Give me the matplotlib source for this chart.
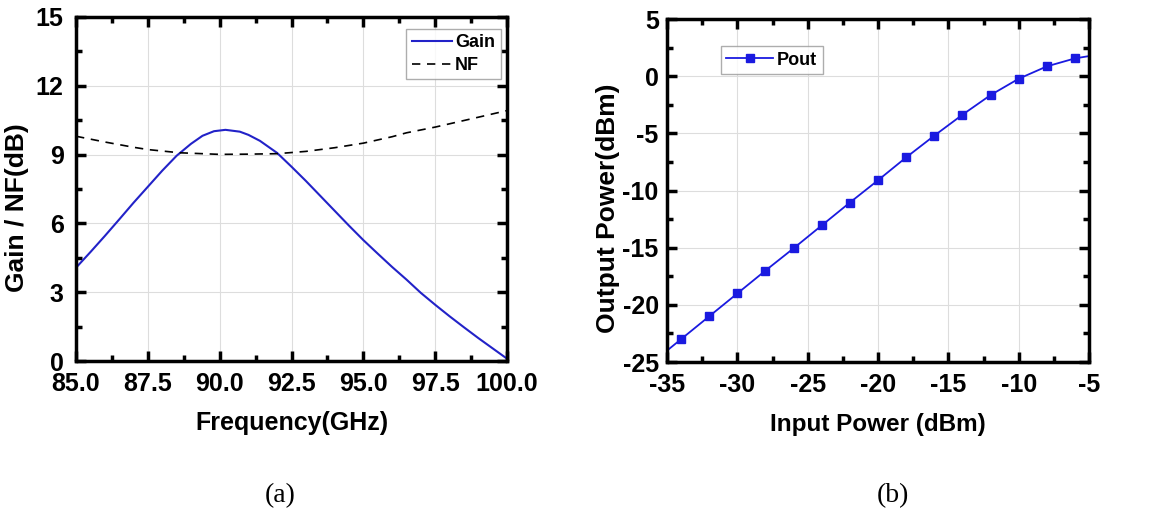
import matplotlib.pyplot as plt
from matplotlib.ticker import MultipleLocator, FormatStrFormatter

# (a) gain and noise figure vs frequency
freq_g = [85.0, 85.5, 86.0, 86.5, 87.0, 87.5, 88.0, 88.5, 89.0, 89.4, 89.8, 90.2,
          90.7, 91.0, 91.4, 92.0, 92.5, 93.0, 93.5, 94.0, 94.5, 95.0, 95.5, 96.0,
          96.5, 97.0, 97.5, 98.0, 98.5, 99.0, 99.5, 100.0]
gain = [4.07, 4.75, 5.45, 6.17, 6.9, 7.6, 8.3, 8.95, 9.47, 9.82, 10.02, 10.08,
        10.0, 9.86, 9.6, 9.07, 8.47, 7.85, 7.2, 6.55, 5.9, 5.27, 4.68, 4.1,
        3.55, 2.97, 2.45, 1.95, 1.47, 1.0, 0.55, 0.1]
freq_nf = [85.0, 86.0, 87.0, 87.5, 88.6, 90.0, 91.0, 92.0, 93.0, 94.0, 95.0, 96.0,
           96.5, 97.5, 99.0, 100.0]
nf = [9.8, 9.55, 9.32, 9.22, 9.08, 9.01, 9.02, 9.04, 9.14, 9.3, 9.5, 9.78,
      9.95, 10.2, 10.63, 10.92]

# (b) output power vs input power
pin = [-35, -34, -32, -30, -28, -26, -24, -22, -20, -18, -16, -14, -12, -10, -8, -6, -5]
pout = [-24.0, -23.0, -21.0, -19.0, -17.0, -15.05, -13.05, -11.05, -9.1, -7.1, -5.2,
        -3.37, -1.65, -0.22, 0.86, 1.56, 1.76]

plt.rcParams['font.family'] = ['Liberation Sans', 'DejaVu Sans']
plt.rcParams['font.weight'] = 'bold'
plt.rcParams['axes.unicode_minus'] = False

fig = plt.figure(figsize=(11.54, 5.15), dpi=100)
ax1 = fig.add_axes([0.0659, 0.299, 0.3735, 0.668])
ax2 = fig.add_axes([0.578, 0.297, 0.3657, 0.666])


def style(ax, ypad):
    for s in ax.spines.values():
        s.set_linewidth(2.5)
    ax.tick_params(which='both', direction='in', top=True, right=True,
                   labelsize=18, width=2.5)
    ax.tick_params(which='major', length=7)
    ax.tick_params(which='minor', length=4)
    ax.tick_params(axis='x', which='major', pad=8)
    ax.tick_params(axis='y', which='major', pad=ypad)
    ax.grid(True, which='major', color='#dddddd', linewidth=0.8)
    ax.set_axisbelow(True)
    for lab in ax.get_xticklabels() + ax.get_yticklabels():
        lab.set_fontweight('bold')


ax1.plot(freq_g, gain, color='#2222c8', lw=1.5, label='Gain')
ax1.plot(freq_nf, nf, color='black', lw=1.2, ls=(0, (5, 4)), label='NF')
ax1.set_xlim(85, 100)
ax1.set_ylim(0, 15)
ax1.xaxis.set_major_locator(MultipleLocator(2.5))
ax1.xaxis.set_minor_locator(MultipleLocator(1.25))
ax1.xaxis.set_major_formatter(FormatStrFormatter('%.1f'))
ax1.yaxis.set_major_locator(MultipleLocator(3))
ax1.yaxis.set_minor_locator(MultipleLocator(1.5))
style(ax1, 9)
ax1.set_xlabel('Frequency(GHz)', fontsize=18, fontweight='bold')
ax1.set_ylabel('Gain / NF(dB)', fontsize=19, fontweight='bold')
ax1.xaxis.set_label_coords(0.5, -0.145)
ax1.yaxis.set_label_coords(-0.11, 0.445)
leg1 = ax1.legend(loc='upper right', bbox_to_anchor=(0.985, 0.965), fontsize=13,
                  frameon=True, fancybox=False, edgecolor='#999999',
                  handlelength=2.2, handletextpad=0.2, borderpad=0.3,
                  labelspacing=0.3, borderaxespad=0)
leg1.get_frame().set_linewidth(1.0)

ax2.plot(pin, pout, color='#1a1ae0', lw=1.3, marker='s', markersize=6,
         markevery=list(range(1, len(pin) - 1)), label='Pout')
ax2.set_xlim(-35, -5)
ax2.set_ylim(-25, 5)
ax2.xaxis.set_major_locator(MultipleLocator(5))
ax2.xaxis.set_minor_locator(MultipleLocator(2.5))
ax2.yaxis.set_major_locator(MultipleLocator(5))
ax2.yaxis.set_minor_locator(MultipleLocator(2.5))
style(ax2, 6)
ax2.set_xlabel('Input Power (dBm)', fontsize=17.5, fontweight='bold')
ax2.set_ylabel('Output Power(dBm)', fontsize=19, fontweight='bold')
ax2.xaxis.set_label_coords(0.5, -0.148)
ax2.yaxis.set_label_coords(-0.111, 0.449)
leg2 = ax2.legend(loc='upper left', bbox_to_anchor=(0.128, 0.921), fontsize=13,
                  frameon=True, fancybox=False, edgecolor='#999999',
                  handlelength=2.6, handletextpad=0.2, borderpad=0.3,
                  borderaxespad=0)
leg2.get_frame().set_linewidth(1.0)

fig.text(0.243, 0.025, '(a)', fontsize=20, fontweight='normal',
         family='Liberation Serif', ha='center')
fig.text(0.774, 0.025, '(b)', fontsize=20, fontweight='normal',
         family='Liberation Serif', ha='center')

fig.savefig('out.png', dpi=100)
